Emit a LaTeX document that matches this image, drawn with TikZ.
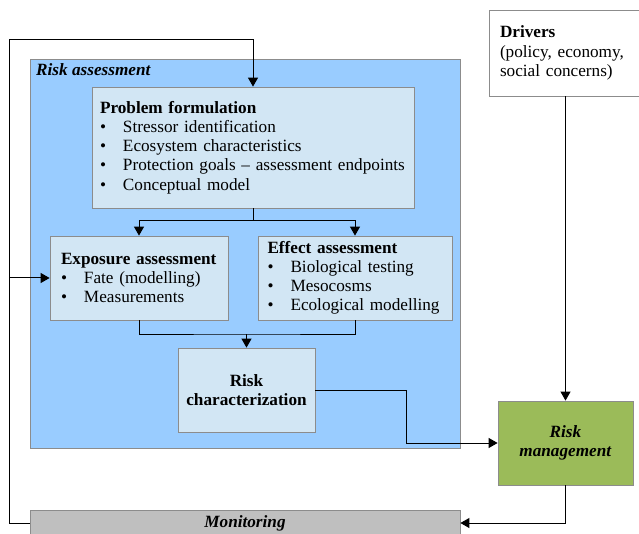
\documentclass[tikz,border=0pt]{standalone}
\usepackage{fontspec}
\setmainfont{Liberation Serif}
\usetikzlibrary{arrows.meta}
\definecolor{outerblue}{HTML}{99CCFF}
\definecolor{innerblue}{HTML}{D2E6F4}
\definecolor{edgegray}{HTML}{8C8C8C}
\definecolor{mgmtgreen}{HTML}{9BBB59}
\definecolor{monigray}{HTML}{BFBFBF}
\newcommand{\itm}[1]{\mbox{\makebox[23pt][l]{\textbullet}#1}}
\newcommand{\ttl}[1]{\mbox{\textbf{#1}}}
\tikzset{
	box/.style={draw=edgegray, line width=0.8pt, rectangle, font=\fontsize{17.2}{19.2}\selectfont, inner ysep=0pt},
	subbox/.style={box, fill=innerblue, align=left},
	arr/.style={-{Triangle[length=9pt,width=10pt]}, line width=1pt},
	link/.style={line width=1pt},
}

\begin{document}
\begin{tikzpicture}[x=1pt,y=-1pt]
		\useasboundingbox[fill=white] (0,0) rectangle (639,534);
		
		% risk assessment frame
		\node(riskassess) [box, fill=outerblue, minimum width=430, minimum height=389] at (245,253.5) {};
		\node(ratitle) [anchor=west, inner sep=0pt, font=\fontsize{17.2}{19.2}\selectfont] at (36,70) {\textbf{\textit{Risk assessment}}};
		
		\node(probform) [subbox, minimum width=322, minimum height=121, inner xsep=8, text width=306] at (253,147.5)
			{\ttl{Problem formulation}\\ \itm{Stressor identification}\\ \itm{Ecosystem characteristics}\\ \itm{Protection goals -- assessment endpoints}\\ \itm{Conceptual model}};
		\node(expo) [subbox, minimum width=178, minimum height=84, inner xsep=11, text width=156] at (139,278)
			{\ttl{Exposure assessment}\\ \itm{Fate (modelling)}\\ \itm{Measurements}};
		\node(effect) [subbox, minimum width=194, minimum height=84, inner xsep=9.5, text width=175] at (355,278)
			{\ttl{Effect assessment}\\ \itm{Biological testing}\\ \itm{Mesocosms}\\ \itm{Ecological modelling}};
		\node(riskchar) [box, fill=innerblue, align=center, minimum width=137, minimum height=84] at (246.5,390)
			{\textbf{Risk}\\ \textbf{characterization}};
		
		\node(drivers) [box, fill=white, align=left, minimum width=152, minimum height=86, inner xsep=11, text width=130] at (565,53)
			{\ttl{Drivers}\\ \mbox{(policy, economy,}\\ \mbox{social concerns)}};
		\node(riskman) [box, fill=mgmtgreen, align=center, minimum width=135, minimum height=84] at (565.5,443)
			{\textbf{\textit{Risk}}\\ \textbf{\textit{management}}};
		\node(monitor) [box, fill=monigray, minimum width=430, minimum height=26] at (245,523)
			{\textbf{\textit{Monitoring}}};
		
		\coordinate(loop) at (9,40);
		\coordinate(split) at (253,221);
		\coordinate(merge) at (246.5,334);
		
		\draw[arr] (monitor.west) -| (loop) -| (probform.north);
		\draw[arr] (loop |- expo.west) -- (expo.west);
		\draw[link] (probform.south) -- (split);
		\draw[arr] (split) -| (expo.north);
		\draw[arr] (split) -| (effect.north);
		\draw[link] (expo.south) |- (merge) -| (effect.south);
		\draw[arr] (merge) -- (riskchar.north);
		\draw[arr] (riskchar.east) -- ++(91,0) |- (riskman.west);
		\draw[arr] (drivers.south -| riskman.north) -- (riskman.north);
		\draw[arr] (riskman.south) |- (monitor.east);
\end{tikzpicture}
\end{document}
